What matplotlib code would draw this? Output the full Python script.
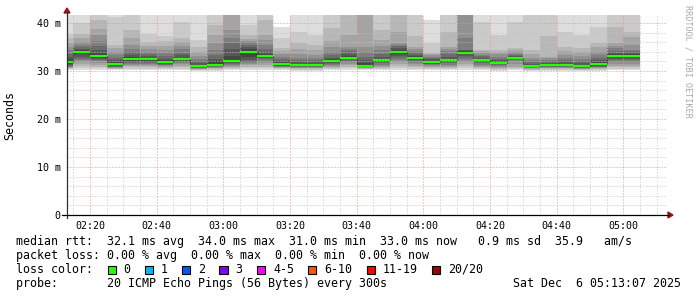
import numpy as np
import pandas as pd
import matplotlib
matplotlib.use("Agg")
import matplotlib.pyplot as plt
import matplotlib.dates as mdates
from matplotlib.ticker import MultipleLocator
from matplotlib.patches import Rectangle, Polygon
from matplotlib.lines import Line2D

# =========================================================
# Dados (smokeping, passos de 5 minutos)
# =========================================================

step_start = "2025-12-06 02:10"
view_start = "2025-12-06 02:13:07"
view_end = "2025-12-06 05:13:07"

# mediana de cada passo (ms)
median_ms = [31.9, 34.0, 33.1, 31.4, 32.4, 32.4, 31.8, 32.4, 31.0, 31.2,
             32.0, 34.0, 33.1, 31.4, 31.2, 31.2, 32.0, 32.8, 31.1, 32.2,
             34.0, 32.8, 31.8, 32.2, 33.8, 32.2, 31.6, 32.8, 31.0, 31.2,
             31.2, 31.0, 31.4, 33.1, 33.1]

# 20 pings ordenados por passo (ms) -> "fumaça"
pings_ms = [
    [30.2, 30.4, 30.6, 30.7, 30.8, 30.9, 31.0, 31.2, 31.4, 31.7, 32.1, 32.4, 32.9, 33.5, 34.3, 35.0, 35.9, 36.8, 37.8, 43.0],
    [30.3, 30.6, 31.0, 31.4, 31.8, 32.2, 32.6, 33.0, 33.5, 33.9, 34.1, 34.3, 34.6, 35.0, 35.4, 36.0, 36.8, 37.8, 39.9, 43.0],
    [30.3, 30.6, 30.9, 31.2, 31.6, 32.0, 32.3, 32.6, 32.8, 33.0, 33.3, 33.8, 34.4, 35.2, 36.2, 37.5, 38.8, 40.6, 43.0, 43.0],
    [30.2, 30.4, 30.5, 30.6, 30.7, 30.8, 30.9, 31.0, 31.2, 31.3, 31.5, 31.8, 32.2, 32.7, 33.3, 34.0, 34.7, 35.5, 41.3, 43.0],
    [30.2, 30.5, 30.8, 31.0, 31.3, 31.5, 31.7, 31.9, 32.1, 32.3, 32.6, 32.9, 33.3, 33.9, 34.6, 35.5, 36.8, 38.5, 42.0, 43.0],
    [30.2, 30.5, 30.8, 31.0, 31.3, 31.5, 31.7, 31.9, 32.1, 32.3, 32.5, 32.8, 33.1, 33.5, 34.0, 34.6, 35.3, 36.1, 37.8, 43.0],
    [30.2, 30.4, 30.6, 30.8, 31.0, 31.2, 31.3, 31.5, 31.6, 31.7, 31.9, 32.2, 32.6, 33.1, 33.7, 34.4, 35.3, 36.2, 37.2, 43.0],
    [30.2, 30.5, 30.8, 31.1, 31.4, 31.6, 31.8, 32.0, 32.2, 32.3, 32.5, 32.8, 33.3, 33.8, 34.5, 35.2, 36.0, 36.8, 40.2, 43.0],
    [30.1, 30.2, 30.3, 30.4, 30.5, 30.6, 30.7, 30.8, 30.9, 31.0, 31.1, 31.3, 31.6, 32.0, 32.5, 33.1, 33.9, 35.0, 36.5, 43.0],
    [30.1, 30.3, 30.5, 30.6, 30.7, 30.8, 30.9, 31.0, 31.1, 31.1, 31.4, 32.0, 32.6, 33.4, 34.4, 35.8, 37.5, 39.5, 43.0, 43.0],
    [30.2, 30.4, 30.6, 30.8, 31.0, 31.2, 31.4, 31.6, 31.8, 31.8, 32.2, 33.2, 34.5, 35.8, 36.8, 38.5, 42.2, 42.8, 43.0, 43.0],
    [30.3, 30.6, 30.9, 31.2, 31.4, 31.6, 31.8, 32.3, 33.0, 33.9, 34.1, 34.5, 35.0, 35.5, 36.0, 36.3, 36.7, 37.5, 39.5, 43.0],
    [30.3, 30.6, 30.9, 31.2, 31.6, 32.0, 32.4, 32.7, 32.9, 33.0, 33.2, 33.5, 33.9, 34.5, 35.5, 36.5, 37.5, 40.6, 43.0, 43.0],
    [30.2, 30.4, 30.6, 30.7, 30.8, 30.9, 31.0, 31.1, 31.2, 31.3, 31.5, 31.8, 32.1, 32.5, 33.0, 33.6, 34.2, 34.8, 36.8, 39.2],
    [30.1, 30.3, 30.5, 30.6, 30.7, 30.8, 30.9, 31.0, 31.1, 31.2, 31.3, 31.5, 31.8, 32.2, 32.8, 33.5, 34.6, 35.8, 38.2, 43.0],
    [30.1, 30.3, 30.5, 30.6, 30.7, 30.8, 30.9, 31.0, 31.1, 31.2, 31.3, 31.5, 31.8, 32.2, 32.7, 33.4, 34.3, 35.5, 37.5, 43.0],
    [30.2, 30.4, 30.6, 30.8, 31.0, 31.2, 31.4, 31.6, 31.8, 31.9, 32.1, 32.4, 32.8, 33.3, 34.0, 35.0, 36.2, 38.9, 43.0, 43.0],
    [30.3, 30.6, 30.9, 31.2, 31.5, 31.8, 32.1, 32.4, 32.6, 32.7, 32.9, 33.2, 33.6, 34.1, 34.6, 35.1, 37.5, 43.0, 43.0, 43.0],
    [30.2, 30.4, 30.5, 30.6, 30.7, 30.8, 30.9, 31.0, 31.0, 31.1, 31.2, 31.6, 32.2, 33.0, 34.0, 35.1, 42.5, 43.0, 43.0, 43.0],
    [30.2, 30.4, 30.6, 30.8, 31.0, 31.3, 31.6, 31.8, 32.0, 32.1, 32.3, 32.6, 33.0, 33.5, 34.3, 35.3, 36.5, 38.5, 43.0, 43.0],
    [30.3, 30.7, 31.1, 31.5, 31.9, 32.3, 32.7, 33.1, 33.5, 33.9, 34.1, 34.4, 34.8, 35.2, 35.5, 35.8, 38.2, 43.0, 43.0, 43.0],
    [30.2, 30.5, 30.8, 31.1, 31.4, 31.7, 32.0, 32.3, 32.6, 32.7, 32.9, 33.1, 33.4, 33.8, 34.2, 34.6, 35.1, 37.2, 43.0, 43.0],
    [30.2, 30.4, 30.6, 30.8, 31.0, 31.2, 31.4, 31.5, 31.6, 31.7, 31.9, 32.1, 32.4, 32.7, 33.0, 33.3, 33.5, 33.7, 35.8, 40.6],
    [30.2, 30.4, 30.6, 30.8, 31.0, 31.3, 31.6, 31.8, 32.0, 32.1, 32.3, 32.6, 33.0, 33.5, 34.1, 34.6, 35.1, 38.2, 43.0, 43.0],
    [30.3, 30.7, 31.1, 31.5, 31.9, 32.3, 32.7, 33.1, 33.5, 33.7, 33.9, 34.1, 34.3, 34.4, 36.8, 42.4, 42.6, 43.0, 43.0, 43.0],
    [30.2, 30.4, 30.6, 30.8, 31.0, 31.3, 31.6, 31.8, 32.0, 32.1, 32.3, 32.5, 32.8, 33.1, 33.4, 33.8, 34.1, 34.4, 40.2, 43.0],
    [30.1, 30.3, 30.5, 30.7, 30.9, 31.1, 31.3, 31.4, 31.5, 31.5, 31.7, 31.9, 32.2, 32.6, 33.0, 33.5, 34.0, 34.4, 37.5, 43.0],
    [30.2, 30.4, 30.6, 30.9, 31.5, 32.0, 32.3, 32.5, 32.6, 32.75, 32.85, 32.95, 33.1, 33.3, 33.6, 34.0, 34.4, 34.8, 40.2, 43.0],
    [30.1, 30.2, 30.3, 30.5, 30.6, 30.7, 30.8, 30.9, 30.9, 31.0, 31.0, 31.2, 31.5, 31.8, 32.2, 32.7, 33.5, 34.4, 43.0, 43.0],
    [30.1, 30.3, 30.5, 30.6, 30.7, 30.8, 30.9, 31.0, 31.1, 31.1, 31.3, 31.5, 31.7, 32.0, 32.3, 32.7, 33.0, 37.2, 43.0, 43.0],
    [30.1, 30.3, 30.5, 30.6, 30.7, 30.8, 30.9, 31.0, 31.1, 31.1, 31.3, 31.5, 31.8, 32.2, 32.7, 33.3, 34.2, 35.1, 38.2, 43.0],
    [30.1, 30.2, 30.3, 30.4, 30.5, 30.6, 30.7, 30.8, 30.9, 30.9, 31.1, 31.3, 31.6, 32.0, 32.5, 33.1, 33.9, 34.8, 37.5, 43.0],
    [30.1, 30.3, 30.5, 30.6, 30.7, 30.8, 30.9, 31.0, 31.2, 31.3, 31.5, 31.8, 32.2, 32.7, 33.3, 34.0, 34.9, 35.8, 39.2, 43.0],
    [30.2, 30.5, 30.8, 31.1, 31.5, 31.9, 32.3, 32.6, 32.9, 33.0, 33.2, 33.5, 33.8, 34.2, 34.7, 35.2, 35.8, 39.2, 43.0, 43.0],
    [30.2, 30.5, 30.8, 31.1, 31.5, 31.9, 32.3, 32.6, 32.9, 33.0, 33.2, 33.5, 33.8, 34.1, 34.4, 35.5, 37.0, 38.2, 43.0, 43.0],
]

y_ticks = [0, 10, 20, 30, 40]
y_tick_labels = ["0", "10 m", "20 m", "30 m", "40 m"]
y_top = 41.67

loss_labels = ["0", "1", "2", "3", "4-5", "6-10", "11-19", "20/20"]
loss_colors = ["#26ff00", "#00b8ff", "#0059ff", "#7e00ff", "#ff00ff", "#ff5500", "#ff0000", "#a10000"]

rtt_line = "median rtt:  32.1 ms avg  34.0 ms max  31.0 ms min  33.0 ms now   0.9 ms sd  35.9   am/s"
loss_line = "packet loss: 0.00 % avg  0.00 % max  0.00 % min  0.00 % now"
probe_line = "probe:       20 ICMP Echo Pings (56 Bytes) every 300s"
date_text = "Sat Dec  6 05:13:07 2025"
side_text = "RRDTOOL / TOBI OETIKER"

# =========================================================
# Layout (pixels)
# =========================================================
W, H = 697, 297
MONO = "DejaVu Sans Mono"
plt.rcParams["lines.scale_dashes"] = False


def fx(x):
    return x / W


def fy(y):
    return 1 - y / H


fig = plt.figure(figsize=(W / 100, H / 100), dpi=100)
fig.patch.set_facecolor("white")
ax = fig.add_axes([fx(67), fy(215), 600 / W, 200 / H])

times = pd.date_range(step_start, periods=len(median_ms), freq="5min")
x = mdates.date2num(times.to_pydatetime())
width = 5 / 1440.0
pings = np.array(pings_ms)
med = np.array(median_ms)

# fumaça: 10 faixas, da mais clara (min-max) à mais escura
half = pings.shape[1] // 2
for i in range(half):
    lo = pings[:, i]
    hi = pings[:, -1 - i]
    g = int(190 / half) * (half - (i + 1)) + 50
    ax.bar(x, hi - lo, bottom=lo, width=width, align="edge",
           color=(g / 255, g / 255, g / 255), linewidth=0,
           antialiased=False, zorder=1)

# ligações verticais da mediana
ax.vlines(x[1:], med[:-1], med[1:], colors="#202020", linewidth=0.72,
          linestyles=(0, (0.72, 0.72)), zorder=3)
# mediana (cor da perda = 0)
ax.hlines(med, x, x + width, colors=loss_colors[0], linewidth=1.5, zorder=4)

ax.set_xlim(mdates.datestr2num(view_start), mdates.datestr2num(view_end))
ax.set_ylim(0, y_top)

ax.xaxis.set_major_locator(mdates.MinuteLocator(byminute=[0, 20, 40]))
ax.xaxis.set_minor_locator(mdates.MinuteLocator(byminute=range(0, 60, 5)))
ax.xaxis.set_major_formatter(mdates.DateFormatter("%H:%M"))
ax.set_yticks(y_ticks, labels=y_tick_labels)
ax.yaxis.set_minor_locator(MultipleLocator(2))

ax.set_axisbelow(False)
ax.grid(which="minor", color="#c4c4c4", linewidth=0.72, linestyle=(0, (0.72, 1.44)))
ax.grid(which="major", color="#ee9090", linewidth=0.72, linestyle=(0, (0.72, 1.44)))

ax.tick_params(which="both", length=0)
ax.tick_params(axis="x", pad=4.5, labelsize=7.2)
ax.tick_params(axis="y", pad=4.5, labelsize=7.2)
for lab in ax.get_xticklabels() + ax.get_yticklabels():
    lab.set_family(MONO)
for s in ax.spines.values():
    s.set_visible(False)
ax.set_facecolor("white")

# eixos com setas
fig.add_artist(Line2D([fx(67), fx(67)], [fy(218), fy(12)], color="#303030", linewidth=0.9))
fig.add_artist(Line2D([fx(62), fx(669)], [fy(215), fy(215)], color="#000000", linewidth=0.9))
fig.add_artist(Polygon([[fx(64), fy(13)], [fx(70), fy(13)], [fx(67), fy(8)]],
                       closed=True, color="#901818", transform=fig.transFigure))
fig.add_artist(Polygon([[fx(668), fy(212)], [fx(668), fy(218)], [fx(673), fy(215)]],
                       closed=True, color="#901818", transform=fig.transFigure))

# textos
fig.text(fx(10), fy(115), "Seconds", rotation=90, ha="center", va="center",
         family=MONO, fontsize=8.4)
fig.text(fx(688), fy(5), side_text, rotation=270, ha="center", va="top",
         family=MONO, fontsize=6.1, color="#a8a8a8")

cw = 7.04
fig.text(fx(16), fy(245), rtt_line, family=MONO, fontsize=8.4, va="baseline")
fig.text(fx(16), fy(259), loss_line, family=MONO, fontsize=8.4, va="baseline")
fig.text(fx(16), fy(273), "loss color:", family=MONO, fontsize=8.4, va="baseline")
c = 13
for lab, col in zip(loss_labels, loss_colors):
    bx = 16 + c * cw
    fig.add_artist(Rectangle((fx(bx), fy(274)), 8.3 / W, 8 / H, facecolor=col,
                             edgecolor="black", linewidth=0.8,
                             transform=fig.transFigure))
    fig.text(fx(16 + (c + 2.3) * cw), fy(273), lab, family=MONO, fontsize=8.4,
             va="baseline")
    c = c + 2.3 + len(lab) + 2
fig.text(fx(16), fy(287), probe_line, family=MONO, fontsize=8.4, va="baseline")
fig.text(fx(513), fy(287), date_text, family=MONO, fontsize=8.4, va="baseline")

fig.savefig("out.png", dpi=100)
